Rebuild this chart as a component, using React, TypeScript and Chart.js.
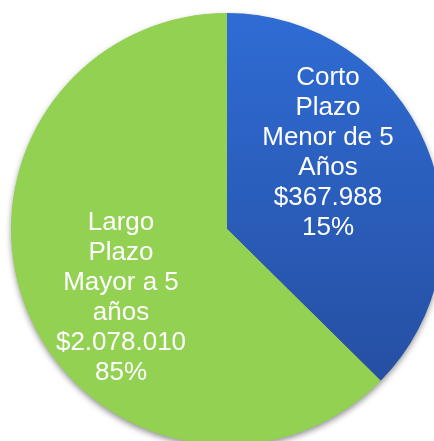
import React, { useEffect, useRef } from "react";
import { Chart, registerables } from "chart.js";

Chart.register(...registerables);

// Categories (label text lines)
const categoryLines: string[][] = [
  ["Corto", "Plazo", "Menor de 5", "Años"],
  ["Largo", "Plazo", "Mayor a 5", "años"],
];
// Amounts and percentages as printed in the labels
const amounts: string[] = ["$367.988", "$2.078.010"];
const percents: string[] = ["15%", "85%"];
// Slice shares as drawn in the picture (angular share of the circle, %)
const sliceShares: number[] = [37.4, 62.6];

const GREEN = "#93D152";

// label anchor offsets relative to pie centre (x centre, first baseline)
const labelOffsets = [
  { dx: 101, dy: -144 },
  { dx: -106, dy: 1 },
];

const shadowPlugin = {
  id: "pieShadow",
  beforeDatasetsDraw(chart: any) {
    const meta = chart.getDatasetMeta(0);
    const arc = meta.data[0];
    if (!arc) return;
    const { x, y, outerRadius } = arc.getProps(["x", "y", "outerRadius"], true);
    const ctx = chart.ctx;
    ctx.save();
    ctx.shadowColor = "rgba(0,0,0,0.45)";
    ctx.shadowBlur = 6;
    ctx.shadowOffsetX = 0;
    ctx.shadowOffsetY = 3;
    ctx.beginPath();
    ctx.arc(x, y, outerRadius - 0.5, 0, Math.PI * 2);
    ctx.fillStyle = GREEN;
    ctx.fill();
    ctx.restore();
  },
};

const labelPlugin = {
  id: "pieLabels",
  afterDatasetsDraw(chart: any) {
    const meta = chart.getDatasetMeta(0);
    const ctx = chart.ctx;
    ctx.save();
    ctx.fillStyle = "#FFFFFF";
    ctx.font = '26px "Liberation Sans", Arial, sans-serif';
    ctx.textAlign = "center";
    ctx.textBaseline = "alphabetic";
    meta.data.forEach((arc: any, i: number) => {
      const { x, y } = arc.getProps(["x", "y"], true);
      const lines = [...categoryLines[i], amounts[i], percents[i]];
      const off = labelOffsets[i];
      lines.forEach((line, j) => {
        ctx.fillText(line, x + off.dx, y + off.dy + j * 30);
      });
    });
    ctx.restore();
  },
};

export default function App() {
  const ref = useRef<HTMLCanvasElement | null>(null);

  useEffect(() => {
    if (!ref.current) return;
    const chart = new Chart(ref.current, {
      type: "pie",
      data: {
        labels: categoryLines.map((l) => l.join(" ")),
        datasets: [
          {
            data: sliceShares,
            backgroundColor: (c: any) => {
              const ch = c.chart;
              const area = ch.chartArea;
              if (c.dataIndex === 1) return GREEN;
              if (!area) return "#2C5FC0";
              const g = ch.ctx.createLinearGradient(0, area.top, 0, area.bottom);
              g.addColorStop(0, "rgb(47,108,212)");
              g.addColorStop(1, "rgb(36,74,154)");
              return g;
            },
            borderWidth: 0,
            hoverOffset: 0,
          },
        ],
      },
      options: {
        responsive: false,
        animation: false,
        devicePixelRatio: 1,
        layout: { padding: 11 },
        plugins: {
          legend: { display: false },
          tooltip: { enabled: false },
          title: { display: false },
        },
        events: [],
      },
      plugins: [shadowPlugin, labelPlugin],
    });
    return () => chart.destroy();
  }, []);

  return (
    <div
      style={{
        position: "fixed",
        left: 0,
        top: 0,
        width: 434,
        height: 441,
        overflow: "hidden",
        background: "#FFFFFF",
      }}
    >
      <canvas
        ref={ref}
        width={454}
        height={454}
        style={{ position: "absolute", left: 0, top: 2, width: 454, height: 454 }}
      />
    </div>
  );
}
